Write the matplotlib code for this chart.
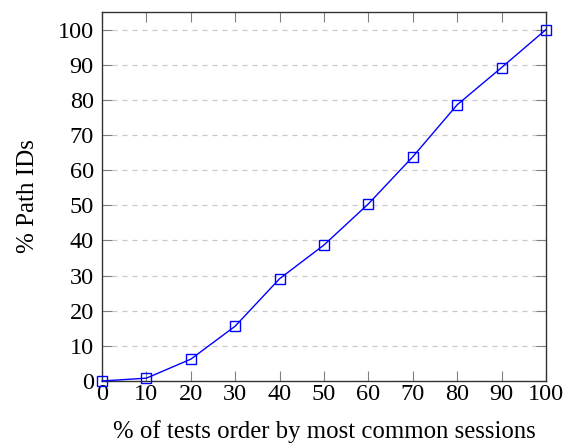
import matplotlib
matplotlib.use('Agg')
import matplotlib.pyplot as plt

# cumulative share of path IDs covered vs. share of tests
tests_pct = [0, 10, 20, 30, 40, 50, 60, 70, 80, 90, 100]
path_ids_pct = [0, 0.8, 6.2, 15.6, 29.1, 38.7, 50.4, 63.8, 78.6, 89.2, 100]
yticks = list(range(0, 101, 10))

plt.rcParams['font.family'] = ['Liberation Serif', 'DejaVu Serif']
plt.rcParams['mathtext.fontset'] = 'stix'

fig = plt.figure(figsize=(5.65, 4.47), dpi=100)
ax = fig.add_axes([0.1805, 0.1477, 0.7859, 0.8255])

ax.plot(tests_pct, path_ids_pct, color='blue', lw=1.0, marker='s', ms=6.5,
        mfc='none', mec='blue', mew=1.0, zorder=3, clip_on=False)

ax.set_xlim(0, 100)
ax.set_ylim(0, 105)
ax.set_xticks(tests_pct)
ax.set_yticks(yticks)
ax.yaxis.grid(True, ls=(0, (4, 4)), color='#c8c8c8', lw=0.9)
ax.set_axisbelow(True)

ax.tick_params(direction='in', top=True, right=True, length=7, width=0.8,
               color='#808080', labelsize=17.5)
ax.tick_params(axis='x', pad=2)
ax.tick_params(axis='y', pad=6)
for s in ax.spines.values():
    s.set_linewidth(1.0)
    s.set_color('#333333')

ax.set_xlabel('% of tests order by most common sessions', fontsize=17.8, labelpad=11)
ax.set_ylabel('% Path IDs', fontsize=18, labelpad=13)

fig.savefig('out.png', dpi=100)
